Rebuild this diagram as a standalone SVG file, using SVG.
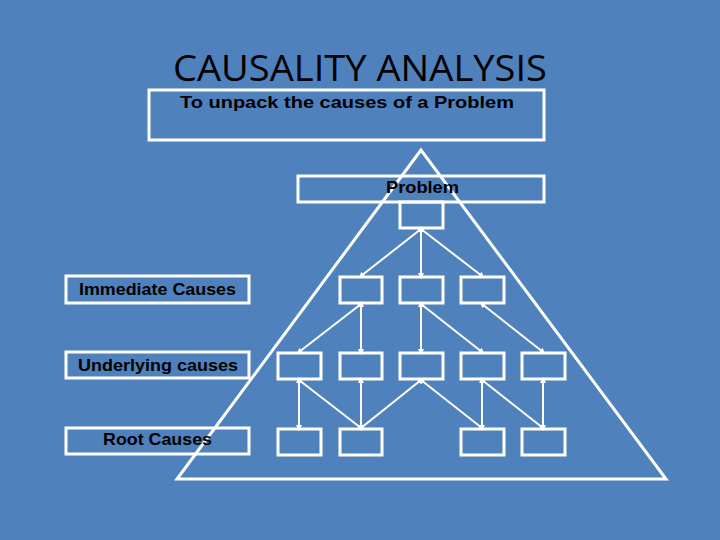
<svg xmlns="http://www.w3.org/2000/svg" width="720" height="540" viewBox="0 0 720 540">
<style>
.b{fill:none;stroke:#fff;stroke-width:3}
.t{font-family:"Liberation Sans",Arial,sans-serif;font-weight:bold;font-size:17px;fill:#000}
.c line{stroke:#fff;stroke-width:2;marker-start:url(#m);marker-end:url(#m)}
</style>
<defs><marker id="m" viewBox="0 0 6 6" refX="3" refY="3" markerWidth="3" markerHeight="3" orient="auto-start-reverse"><path d="M0,0L6,3L0,6z" fill="#fff"/></marker></defs>
<rect width="720" height="540" fill="#4f81bd"/>
<text x="173" y="81" font-family="'Open Sans',sans-serif" font-size="37" fill="#000" textLength="374" lengthAdjust="spacingAndGlyphs">CAUSALITY ANALYSIS</text>
<g id="subtitle"><rect class="b" x="149" y="90" width="395" height="50"/><text class="t" x="180" y="108" textLength="334" lengthAdjust="spacingAndGlyphs">To unpack the causes of a Problem</text></g>
<polygon class="b" points="421,150 177,479 666,479"/>
<g id="problem"><rect class="b" x="298" y="176" width="246" height="26"/><text class="t" x="386" y="193" textLength="73" lengthAdjust="spacingAndGlyphs">Problem</text></g>
<g id="immediate"><rect class="b" x="66" y="276" width="183" height="27"/><text class="t" x="79" y="295" textLength="157" lengthAdjust="spacingAndGlyphs">Immediate Causes</text></g>
<g id="underlying"><rect class="b" x="66" y="352" width="183" height="26"/><text class="t" x="78" y="371" textLength="160" lengthAdjust="spacingAndGlyphs">Underlying causes</text></g>
<g id="root"><rect class="b" x="66" y="428" width="183" height="26"/><text class="t" x="103" y="445" textLength="109" lengthAdjust="spacingAndGlyphs">Root Causes</text></g>
<g id="p0"><rect class="b" x="400" y="202" width="43" height="26"/></g>
<g id="i1"><rect class="b" x="340" y="277" width="42" height="26"/></g>
<g id="i2"><rect class="b" x="400" y="277" width="43" height="26"/></g>
<g id="i3"><rect class="b" x="461" y="277" width="43" height="26"/></g>
<g id="u1"><rect class="b" x="278" y="353" width="43" height="26"/></g>
<g id="u2"><rect class="b" x="340" y="353" width="42" height="26"/></g>
<g id="u3"><rect class="b" x="400" y="353" width="43" height="26"/></g>
<g id="u4"><rect class="b" x="461" y="353" width="43" height="26"/></g>
<g id="u5"><rect class="b" x="522" y="353" width="43" height="26"/></g>
<g id="r1"><rect class="b" x="278" y="429" width="43" height="26"/></g>
<g id="r2"><rect class="b" x="340" y="429" width="42" height="26"/></g>
<g id="r3"><rect class="b" x="461" y="429" width="43" height="26"/></g>
<g id="r4"><rect class="b" x="522" y="429" width="43" height="26"/></g>
<g class="c" id="connectors">
<line x1="421" y1="229" x2="361" y2="276"/>
<line x1="421" y1="229" x2="421" y2="276"/>
<line x1="421" y1="229" x2="482" y2="276"/>
<line x1="361" y1="304" x2="299" y2="352"/>
<line x1="361" y1="304" x2="361" y2="352"/>
<line x1="421" y1="304" x2="421" y2="352"/>
<line x1="421" y1="304" x2="482" y2="352"/>
<line x1="482" y1="304" x2="543" y2="352"/>
<line x1="299" y1="380" x2="299" y2="428"/>
<line x1="299" y1="380" x2="361" y2="428"/>
<line x1="361" y1="380" x2="361" y2="428"/>
<line x1="421" y1="380" x2="361" y2="428"/>
<line x1="421" y1="380" x2="482" y2="428"/>
<line x1="482" y1="380" x2="482" y2="428"/>
<line x1="482" y1="380" x2="543" y2="428"/>
<line x1="543" y1="380" x2="543" y2="428"/>
</g>
</svg>
